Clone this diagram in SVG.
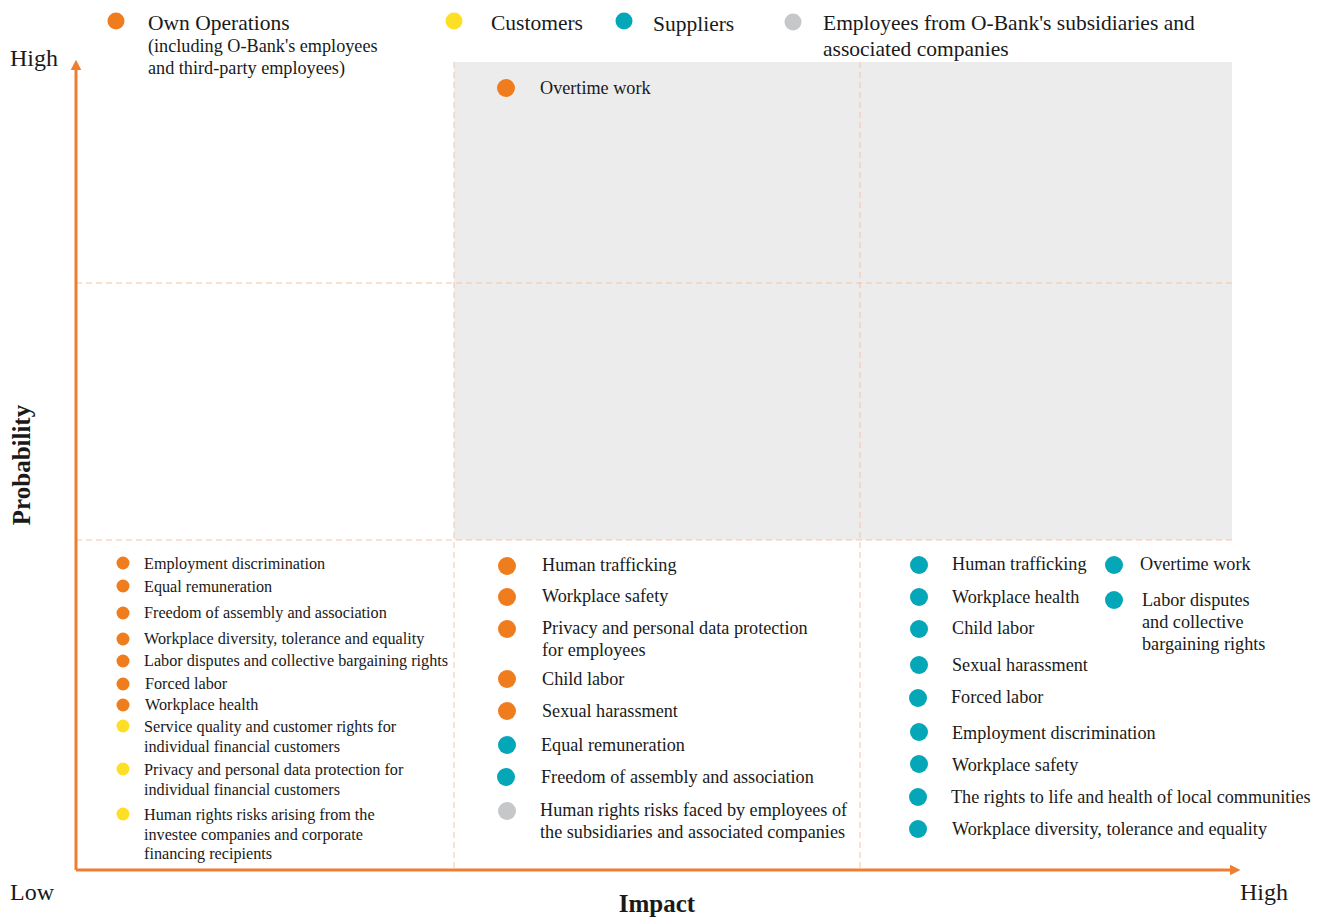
<svg xmlns="http://www.w3.org/2000/svg" width="1325" height="917" viewBox="0 0 1325 917">
<defs>
<style>
text{font-family:"Liberation Serif","Times New Roman",serif;fill:#1a1a1a}
.lg{font-size:21.5px}
.lg2{font-size:18.2px}
.ax{font-size:24px}
.axb{font-size:25px;font-weight:bold}
.s{font-size:16.2px}
.m{font-size:18.2px}
.grid{stroke:#f5c4a3;stroke-width:1;stroke-dasharray:6 4;fill:none}
.or{fill:#ef7d1e}.ye{fill:#ffde26}.te{fill:#04a7b8}.gr{fill:#c5c7c9}
.axis{stroke:#ef7d31;stroke-width:3;fill:none}
</style>
<marker id="ah" viewBox="0 0 10 10" refX="2" refY="5" markerWidth="3.5" markerHeight="3.5" orient="auto"><path d="M0,0 L10,5 L0,10 z" fill="#ef7d31"/></marker>
</defs>
<rect x="454" y="62" width="778" height="478" fill="#ececec"/>
<g id="grid">
<line class="grid" x1="454" y1="62" x2="454" y2="870"/>
<line class="grid" x1="860" y1="62" x2="860" y2="870"/>
<line class="grid" x1="76" y1="283" x2="1232" y2="283"/>
<line class="grid" x1="76" y1="540" x2="1232" y2="540"/>
</g>
<g id="connectors">
<line class="axis" x1="76" y1="870" x2="76" y2="68" marker-end="url(#ah)"/>
<line class="axis" x1="76" y1="870" x2="1232" y2="870" marker-end="url(#ah)"/>
</g>
<g id="axis-labels">
<text class="ax" x="10" y="66">High</text>
<text class="ax" x="10" y="900">Low</text>
<text class="ax" x="1240" y="900">High</text>
<text class="axb" x="657" y="912" text-anchor="middle">Impact</text>
<text class="axb" transform="translate(30,465) rotate(-90)" text-anchor="middle">Probability</text>
</g>
<g id="legend">
<circle class="or" cx="116" cy="21" r="8.5"/>
<text class="lg" x="148" y="30">Own Operations</text>
<text class="lg2" x="148" y="52">(including O-Bank's employees</text>
<text class="lg2" x="148" y="74">and third-party employees)</text>
<circle class="ye" cx="454" cy="21" r="8.5"/>
<text class="lg" x="491" y="30">Customers</text>
<circle class="te" cx="624" cy="21" r="8.5"/>
<text class="lg" x="653" y="31">Suppliers</text>
<circle class="gr" cx="793" cy="22" r="8.5"/>
<text class="lg" x="823" y="30">Employees from O-Bank's subsidiaries and</text>
<text class="lg" x="823" y="56">associated companies</text>
</g>
<g id="cell-top-mid">
<circle class="or" cx="506" cy="88" r="9"/>
<text class="m" x="540" y="94">Overtime work</text>
</g>
<g id="cell-low-low">
<circle class="or" cx="123" cy="563" r="6.5"/><text class="s" x="144" y="569">Employment discrimination</text>
<circle class="or" cx="123" cy="586" r="6.5"/><text class="s" x="144" y="592">Equal remuneration</text>
<circle class="or" cx="123" cy="613" r="6.5"/><text class="s" x="144" y="618">Freedom of assembly and association</text>
<circle class="or" cx="123" cy="639" r="6.5"/><text class="s" x="144" y="644">Workplace diversity, tolerance and equality</text>
<circle class="or" cx="123" cy="661" r="6.5"/><text class="s" x="144" y="666">Labor disputes and collective bargaining rights</text>
<circle class="or" cx="123" cy="684" r="6.5"/><text class="s" x="145" y="689">Forced labor</text>
<circle class="or" cx="123" cy="705" r="6.5"/><text class="s" x="145" y="710">Workplace health</text>
<circle class="ye" cx="123" cy="726" r="6.5"/><text class="s" x="144" y="732">Service quality and customer rights for</text><text class="s" x="144" y="752">individual financial customers</text>
<circle class="ye" cx="123" cy="769" r="6.5"/><text class="s" x="144" y="775">Privacy and personal data protection for</text><text class="s" x="144" y="795">individual financial customers</text>
<circle class="ye" cx="123" cy="814" r="6.5"/><text class="s" x="144" y="820">Human rights risks arising from the</text><text class="s" x="144" y="840">investee companies and corporate</text><text class="s" x="144" y="859">financing recipients</text>
</g>
<g id="cell-low-mid">
<circle class="or" cx="507" cy="566" r="9"/><text class="m" x="542" y="571">Human trafficking</text>
<circle class="or" cx="507" cy="597" r="9"/><text class="m" x="542" y="602">Workplace safety</text>
<circle class="or" cx="507" cy="629" r="9"/><text class="m" x="542" y="634">Privacy and personal data protection</text><text class="m" x="542" y="656">for employees</text>
<circle class="or" cx="507" cy="679" r="9"/><text class="m" x="542" y="685">Child labor</text>
<circle class="or" cx="507" cy="711" r="9"/><text class="m" x="542" y="717">Sexual harassment</text>
<circle class="te" cx="507" cy="745" r="9"/><text class="m" x="541" y="751">Equal remuneration</text>
<circle class="te" cx="506" cy="777" r="9"/><text class="m" x="541" y="783">Freedom of assembly and association</text>
<circle class="gr" cx="507" cy="811" r="9"/><text class="m" x="540" y="816">Human rights risks faced by employees of</text><text class="m" x="540" y="838">the subsidiaries and associated companies</text>
</g>
<g id="cell-low-high">
<circle class="te" cx="919" cy="565" r="9"/><text class="m" x="952" y="570">Human trafficking</text>
<circle class="te" cx="919" cy="597" r="9"/><text class="m" x="952" y="603">Workplace health</text>
<circle class="te" cx="919" cy="629" r="9"/><text class="m" x="952" y="634">Child labor</text>
<circle class="te" cx="919" cy="665" r="9"/><text class="m" x="952" y="671">Sexual harassment</text>
<circle class="te" cx="918" cy="698" r="9"/><text class="m" x="951" y="703">Forced labor</text>
<circle class="te" cx="919" cy="732" r="9"/><text class="m" x="952" y="739">Employment discrimination</text>
<circle class="te" cx="919" cy="764" r="9"/><text class="m" x="952" y="771">Workplace safety</text>
<circle class="te" cx="918" cy="797" r="9"/><text class="m" x="951" y="803">The rights to life and health of local communities</text>
<circle class="te" cx="918" cy="829" r="9"/><text class="m" x="952" y="835">Workplace diversity, tolerance and equality</text>
<circle class="te" cx="1114" cy="565" r="9"/><text class="m" x="1140" y="570">Overtime work</text>
<circle class="te" cx="1114" cy="600" r="9"/><text class="m" x="1142" y="606">Labor disputes</text><text class="m" x="1142" y="628">and collective</text><text class="m" x="1142" y="650">bargaining rights</text>
</g>
</svg>
